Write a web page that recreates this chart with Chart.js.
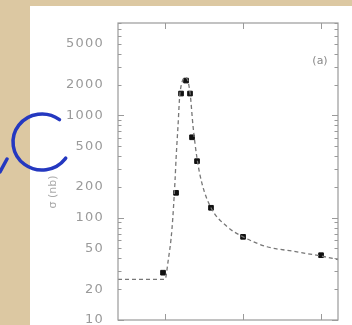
<!DOCTYPE html>
<html>
<head>
<meta charset="utf-8">
<script src="https://cdn.jsdelivr.net/npm/chart.js@4.4.1/dist/chart.umd.min.js"></script>
<style>
html,body{margin:0;padding:0;background:#dcc8a2;}
#wrap{width:352px;height:325px;position:relative;}
</style>
</head>
<body>
<div id="wrap"><canvas id="c" width="352" height="325"></canvas></div>
<script>
// measured points
const pointX = [0.977, 1.144, 1.208, 1.272, 1.323, 1.349, 1.413, 1.592, 2.003, 3.003];
const pointY = [29, 175, 1635, 2190, 1635, 611, 357, 125, 65, 43];
// dashed fit curve
const curveX = [0.40, 1.003, 1.041, 1.092, 1.131, 1.144, 1.169, 1.195, 1.272, 1.323, 1.362, 1.413, 1.477, 1.592, 1.797, 2.003, 2.31, 2.644, 3.015, 3.22];
const curveY = [25, 25, 37, 78, 230, 374, 782, 1670, 2340, 1670, 782, 380, 215, 125, 82, 65, 52, 47, 42, 39];
// axis ticks
const yTickLabels = [10, 20, 50, 100, 200, 500, 1000, 2000, 5000];
const xTicks = [1, 2, 3];
const yTitle = 'σ (nb)';
const panelLabel = '(a)';

const AXIS = '#9a9a9a';

const decor = {
  id: 'decor',
  beforeDraw(chart) {
    const ctx = chart.ctx;
    ctx.save();
    ctx.fillStyle = '#dcc8a2';
    ctx.fillRect(0, 0, chart.width, chart.height);
    ctx.fillStyle = '#ffffff';
    ctx.fillRect(30, 6, chart.width - 30, chart.height - 6);
    ctx.restore();
    ctx.letterSpacing = '1.2px';
  },
  afterDraw(chart) {
    const ctx = chart.ctx;
    const a = chart.chartArea;
    const ys = chart.scales.y, xs = chart.scales.x;
    ctx.save();
    ctx.letterSpacing = '0px';
    ctx.strokeStyle = AXIS;
    ctx.lineWidth = 1.2;
    ctx.strokeRect(a.left, a.top, a.right - a.left, a.bottom - a.top);
    // y ticks inside on both sides
    ctx.lineWidth = 1;
    for (let e = 1; e <= 3; e++) {
      for (let m = 1; m <= 9; m++) {
        const v = m * Math.pow(10, e);
        if (v < ys.min || v > ys.max) continue;
        const py = Math.round(ys.getPixelForValue(v)) + 0.5;
        const len = (m === 1) ? 6 : 3.5;
        ctx.beginPath();
        ctx.moveTo(a.left, py); ctx.lineTo(a.left + len, py);
        ctx.moveTo(a.right, py); ctx.lineTo(a.right - len, py);
        ctx.stroke();
      }
    }
    // x ticks top and bottom
    xTicks.forEach(v => {
      const px = Math.round(xs.getPixelForValue(v)) + 0.5;
      ctx.beginPath();
      ctx.moveTo(px, a.top); ctx.lineTo(px, a.top + 6);
      ctx.moveTo(px, a.bottom); ctx.lineTo(px, a.bottom - 6);
      ctx.stroke();
    });
    // panel label
    ctx.fillStyle = '#888';
    ctx.font = '11px "DejaVu Sans"';
    ctx.textAlign = 'center';
    ctx.textBaseline = 'middle';
    ctx.fillText(panelLabel, 320, 61);
    // y title
    ctx.save();
    ctx.translate(53, 192);
    ctx.rotate(-Math.PI / 2);
    ctx.fillStyle = '#aaa';
    ctx.font = '11px "DejaVu Sans"';
    ctx.fillText(yTitle, 0, 0);
    ctx.restore();
    // blue hand-drawn C
    ctx.strokeStyle = '#2438c0';
    ctx.lineWidth = 3.5;
    ctx.lineCap = 'round';
    ctx.beginPath();
    ctx.ellipse(42, 142, 29, 28, 0, -53 * Math.PI / 180, 35 * Math.PI / 180, true);
    ctx.stroke();
    ctx.beginPath();
    ctx.moveTo(0, 172); ctx.lineTo(7, 159);
    ctx.stroke();
    ctx.restore();
  }
};

new Chart(document.getElementById('c'), {
  type: 'scatter',
  data: {
    datasets: [
      {
        type: 'line',
        data: curveX.map((x, i) => ({x, y: curveY[i]})),
        borderColor: '#777',
        borderWidth: 1.3,
        borderDash: [4, 3],
        pointRadius: 0,
        cubicInterpolationMode: 'monotone',
        fill: false
      },
      {
        data: pointX.map((x, i) => ({x, y: pointY[i]})),
        pointStyle: 'rect',
        pointRadius: 3.3,
        backgroundColor: '#111',
        borderColor: '#111',
        borderWidth: 1
      }
    ]
  },
  options: {
    responsive: false,
    animation: false,
    layout: {padding: {left: 0, right: 14, top: 23, bottom: 0}},
    plugins: {legend: {display: false}, tooltip: {enabled: false}},
    scales: {
      x: {
        type: 'linear',
        min: 0.4, max: 3.22,
        grid: {display: false},
        border: {display: false},
        ticks: {display: false},
        afterFit(s) { s.height = 3; s.paddingLeft = 0; s.paddingRight = 0; }
      },
      y: {
        type: 'logarithmic',
        min: 10, max: 8000,
        grid: {display: false},
        border: {display: false},
        afterBuildTicks(s) { s.ticks = yTickLabels.map(v => ({value: v})); },
        afterFit(s) { s.width = 118; s.paddingTop = 0; s.paddingBottom = 0; },
        ticks: {
          color: '#9a9a9a',
          font: {family: 'DejaVu Sans', size: 13},
          padding: 6,
          autoSkip: false,
          callback: v => String(v)
        }
      }
    }
  },
  plugins: [decor]
});
</script>
</body>
</html>
